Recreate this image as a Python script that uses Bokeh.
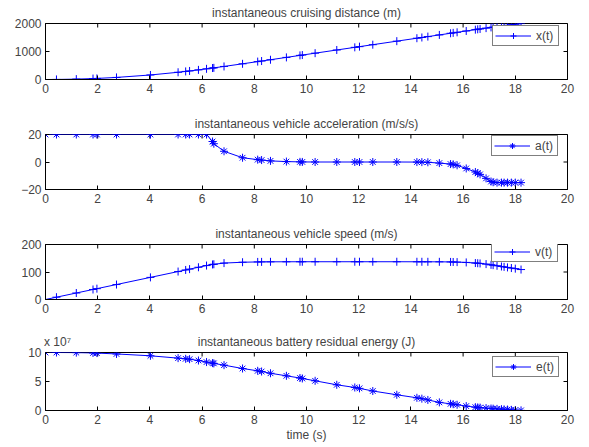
import math
from bokeh.plotting import figure
from bokeh.models import (Range1d, LinearAxis, FixedTicker, ColumnDataSource,
                          Legend, LegendItem)
from bokeh.layouts import column
from bokeh.embed import file_html
from bokeh.resources import INLINE

# ---------------- data ----------------
time_s = [0, 0.42, 1.18, 1.82, 1.97, 2.72, 4.02, 5.08, 5.37, 5.52, 5.86, 6.17,
          6.40, 6.45, 6.84, 7.55, 8.13, 8.28, 8.62, 9.23, 9.75, 9.84, 10.33, 11.16,
          11.85, 12.03, 12.54, 13.46, 14.23, 14.42, 14.65, 15.09, 15.52, 15.62, 15.77,
          16.12, 16.47, 16.56, 16.65, 16.88, 17.07, 17.15, 17.30, 17.47, 17.57, 17.70,
          17.85, 18.00, 18.22]

distance_m = [0, 1.8, 13.9, 33.1, 38.8, 74, 161.6, 258, 288.4, 304.7, 343.4, 380.7,
              409.5, 415.9, 466.4, 560.8, 639.1, 659.5, 705.9, 789.5, 860.7, 873, 940.1,
              1053.8, 1148.3, 1173, 1242.9, 1368.9, 1474.4, 1500.4, 1531.9, 1592.2, 1651.1,
              1664.8, 1685.3, 1733.1, 1780.6, 1792.7, 1804.7, 1835, 1859.5, 1869.7, 1888.7,
              1909.9, 1922, 1937.6, 1955.3, 1972.6, 1997.4]

accel = [20, 20, 20, 20, 20, 20, 20, 20, 20, 20, 20, 20,
         14.9, 13.3, 7.8, 3.1, 1.7, 1.4, 0.8, 0.3, 0.1, 0.05, 0, 0,
         0, 0, 0, 0, -0.05, -0.1, -0.2, -0.8, -1.5, -1.7, -2.4,
         -4.7, -7.3, -8.2, -9.0, -11.9, -14.2, -14.7, -15, -15, -15, -15,
         -15, -15, -15]

speed = [0, 8.4, 23.6, 36.4, 39.4, 54.4, 80.4, 101.6, 107.4, 110.4, 117.2, 123.4,
         127.4, 128.1, 132.4, 135.5, 136.6, 136.8, 137, 137.2, 137.3, 137.3, 137.3, 137.3,
         137.3, 137.3, 137.3, 137.3, 137.2, 137.2, 137.1, 137, 136.6, 136.4, 136,
         134.8, 132.6, 131.9, 131.1, 128.7, 126, 124.9, 122.6, 120.1, 118.6, 116.7,
         114.4, 112.2, 108.9]

energy_1e7 = [10, 10, 9.98, 9.92, 9.9, 9.75, 9.43, 9.03, 8.91, 8.85, 8.62, 8.35,
              8.17, 8.12, 7.82, 7.24, 6.84, 6.72, 6.42, 5.98, 5.6, 5.52, 5.12, 4.43,
              3.97, 3.82, 3.36, 2.71, 2.19, 2.04, 1.82, 1.4, 1.15, 1.09, 0.99,
              0.76, 0.57, 0.53, 0.5, 0.41, 0.34, 0.32, 0.28, 0.23, 0.19, 0.16,
              0.11, 0.07, 0.02]

x_ticks = [0, 2, 4, 6, 8, 10, 12, 14, 16, 18, 20]

titles = ["instantaneous cruising distance (m)",
          "instantaneous vehicle acceleration (m/s/s)",
          "instantaneous vehicle speed (m/s)",
          "instantaneous battery residual energy (J)"]
legend_labels = ["x(t)", "a(t)", "v(t)", "e(t)"]
y_ranges = [(0, 2000), (-20, 20), (0, 200), (0, 10)]
y_ticks = [[0, 1000, 2000], [-20, 0, 20], [0, 100, 200], [0, 5, 10]]
series = [distance_m, accel, speed, energy_1e7]
markers = ["cross", "asterisk", "cross", "asterisk"]
exponent_label = "x 10\u2077"
x_label = "time (s)"

FONT = "Liberation Sans"
BLUE = "#0000ff"
FS = "12px"

# layout: (fig height, top border, bottom border, legend location)
layout_spec = [
    (111, 21, 32, (447, 33)),
    (110, 21, 32, (446, 33)),
    (109, 21, 31, (446, 37)),
    (116, 22, 36, (447, 33)),
]


def style_axis(ax, ticks):
    ax.ticker = FixedTicker(ticks=ticks)
    ax.major_tick_in = 4
    ax.major_tick_out = 0
    ax.minor_tick_line_color = None
    ax.axis_line_color = "black"
    ax.major_tick_line_color = "black"
    ax.major_label_text_font = FONT
    ax.major_label_text_font_size = FS
    ax.major_label_standoff = 4


figs = []
for i in range(4):
    h, top, bottom, loc = layout_spec[i]
    p = figure(width=587, height=h, output_backend="svg", toolbar_location=None,
               x_range=Range1d(0, 20), y_range=Range1d(*y_ranges[i]),
               min_border_left=45, min_border_right=20,
               min_border_top=top, min_border_bottom=bottom)
    p.grid.visible = False
    p.outline_line_color = "black"
    p.outline_line_width = 1
    if i < 3:
        p.title.text = titles[i]
        p.title.align = "center"
        p.title.text_font = FONT
        p.title.text_font_size = FS
        p.title.text_font_style = "normal"
        p.title.standoff = 7

    style_axis(p.xaxis[0], x_ticks)
    style_axis(p.yaxis[0], y_ticks[i])
    if i == 1:
        p.yaxis[0].major_label_overrides = {-20: "\u221220"}

    # mirrored inward ticks on the top and right edges (half clipped by the frame)
    y_lo, y_hi = y_ranges[i]
    p.scatter(x_ticks, [y_hi] * len(x_ticks), marker="dash", angle=math.pi / 2,
              size=8, line_color="black", line_width=1)
    p.scatter([20] * len(y_ticks[i]), y_ticks[i], marker="dash", size=8,
              line_color="black", line_width=1)

    src = ColumnDataSource(dict(t=time_s, y=series[i]))
    r_line = p.line("t", "y", source=src, color=BLUE, line_width=1)
    r_pts = p.scatter("t", "y", source=src, marker=markers[i], size=8, line_color=BLUE,
                      line_width=1)

    lg = Legend(items=[LegendItem(label=legend_labels[i], renderers=[r_line, r_pts])])
    lg.location = loc
    lg.border_line_color = "black"
    lg.border_line_width = 1
    lg.background_fill_color = "white"
    lg.background_fill_alpha = 1
    lg.label_text_font = FONT
    lg.label_text_font_size = FS
    lg.padding = 2
    lg.spacing = 0
    lg.margin = 0
    lg.glyph_width = 36
    lg.glyph_height = 15
    lg.label_height = 15
    lg.label_standoff = 5
    p.add_layout(lg, "center")

    if i == 3:
        xa = p.xaxis[0]
        xa.axis_label = x_label
        xa.axis_label_text_font = FONT
        xa.axis_label_text_font_size = FS
        xa.axis_label_text_font_style = "normal"
        xa.axis_label_standoff = 1
        # title and exponent note share one text row above the frame
        top_ax = LinearAxis(ticker=FixedTicker(ticks=[0.46, 10]),
                            major_label_overrides={0.46: exponent_label, 10: titles[3]})
        top_ax.major_tick_line_color = None
        top_ax.minor_tick_line_color = None
        top_ax.axis_line_color = None
        top_ax.major_tick_in = 0
        top_ax.major_tick_out = 0
        top_ax.major_label_text_font = FONT
        top_ax.major_label_text_font_size = FS
        top_ax.major_label_standoff = 4
        p.add_layout(top_ax, "above")
    figs.append(p)

layout = column(*figs, spacing=0)
open("out.html", "w").write(file_html(layout, INLINE))
